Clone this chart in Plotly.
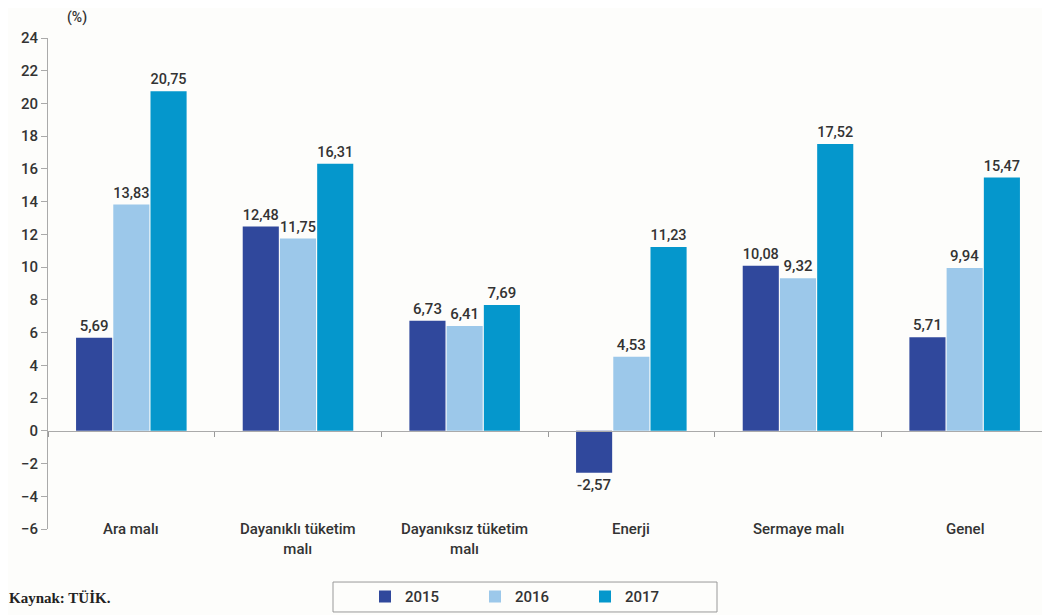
import plotly.graph_objects as go

categories = ["Ara malı", "Dayanıklı tüketim<br>malı", "Dayanıksız tüketim<br>malı",
              "Enerji", "Sermaye malı", "Genel"]
years = ["2015", "2016", "2017"]
v2015 = [5.69, 12.48, 6.73, -2.57, 10.08, 5.71]
v2016 = [13.83, 11.75, 6.41, 4.53, 9.32, 9.94]
v2017 = [20.75, 16.31, 7.69, 11.23, 17.52, 15.47]
colors = ["#30489c", "#9cc8ea", "#0597cc"]
yticks = list(range(-6, 25, 2))

font_main = "Roboto, Arial, sans-serif"

fig = go.Figure()
for name, vals, col in zip(years, [v2015, v2016, v2017], colors):
    fig.add_trace(go.Bar(
        x=categories, y=vals, name=name, marker_color=col, marker_line_width=0,
        text=vals, texttemplate="%{y:.2f}", textposition="outside",
        textfont=dict(size=15, color="#333333", family=font_main, weight=500),
        cliponaxis=False,
    ))

for c in categories:
    fig.add_annotation(x=c, y=-6, xref="x", yref="y", text=c, showarrow=False,
                       yanchor="top", yshift=11,
                       font=dict(size=15, color="#333333", family=font_main, weight=500))

fig.add_annotation(x=0.029, y=1.041, xref="paper", yref="paper", xanchor="center",
                   yanchor="middle", text="(%)", showarrow=False,
                   font=dict(size=14, color="#333333", family=font_main, weight=500))
fig.add_annotation(x=-0.041, y=-0.1405, xref="paper", yref="paper", xanchor="left",
                   yanchor="middle", text="<b>Kaynak: TÜİK.</b>", showarrow=False,
                   font=dict(size=15, color="#222222", family="Liberation Serif, DejaVu Serif, serif"))

# legend frame
fig.add_shape(type="rect", xref="paper", yref="paper", x0=0.285, x1=0.669,
              y0=-0.169, y1=-0.108, line=dict(color="#999999", width=1),
              fillcolor="rgba(0,0,0,0)")

fig.update_layout(
    width=1050, height=615,
    margin=dict(l=40, r=10, t=30, b=94, autoexpand=False),
    paper_bgcolor="#fdfdfb", plot_bgcolor="#fdfdfb",
    barmode="group", bargap=0.33, bargroupgap=0.03,
    separators=",.",
    showlegend=True,
    legend=dict(orientation="h", x=0.317, y=-0.138, xanchor="left", yanchor="middle",
                entrywidth=65, borderwidth=0, bgcolor="rgba(0,0,0,0)",
                font=dict(size=15, color="#333333", family=font_main, weight=500),
                itemwidth=30),
    xaxis=dict(type="category", anchor="free", position=0.2, showline=True,
               linecolor="#aaaaaa", linewidth=1, ticks="outside", ticklen=5,
               tickcolor="#999999", tickson="boundaries", showticklabels=False,
               showgrid=False),
    yaxis=dict(range=[-6, 24], tickvals=yticks, showline=True, linecolor="#aaaaaa",
               linewidth=1, ticks="outside", ticklen=6, tickcolor="#aaaaaa",
               showgrid=False, zeroline=False,
               tickfont=dict(size=15, color="#333333", family=font_main, weight=500)),
)

fig.write_html("out.html")
